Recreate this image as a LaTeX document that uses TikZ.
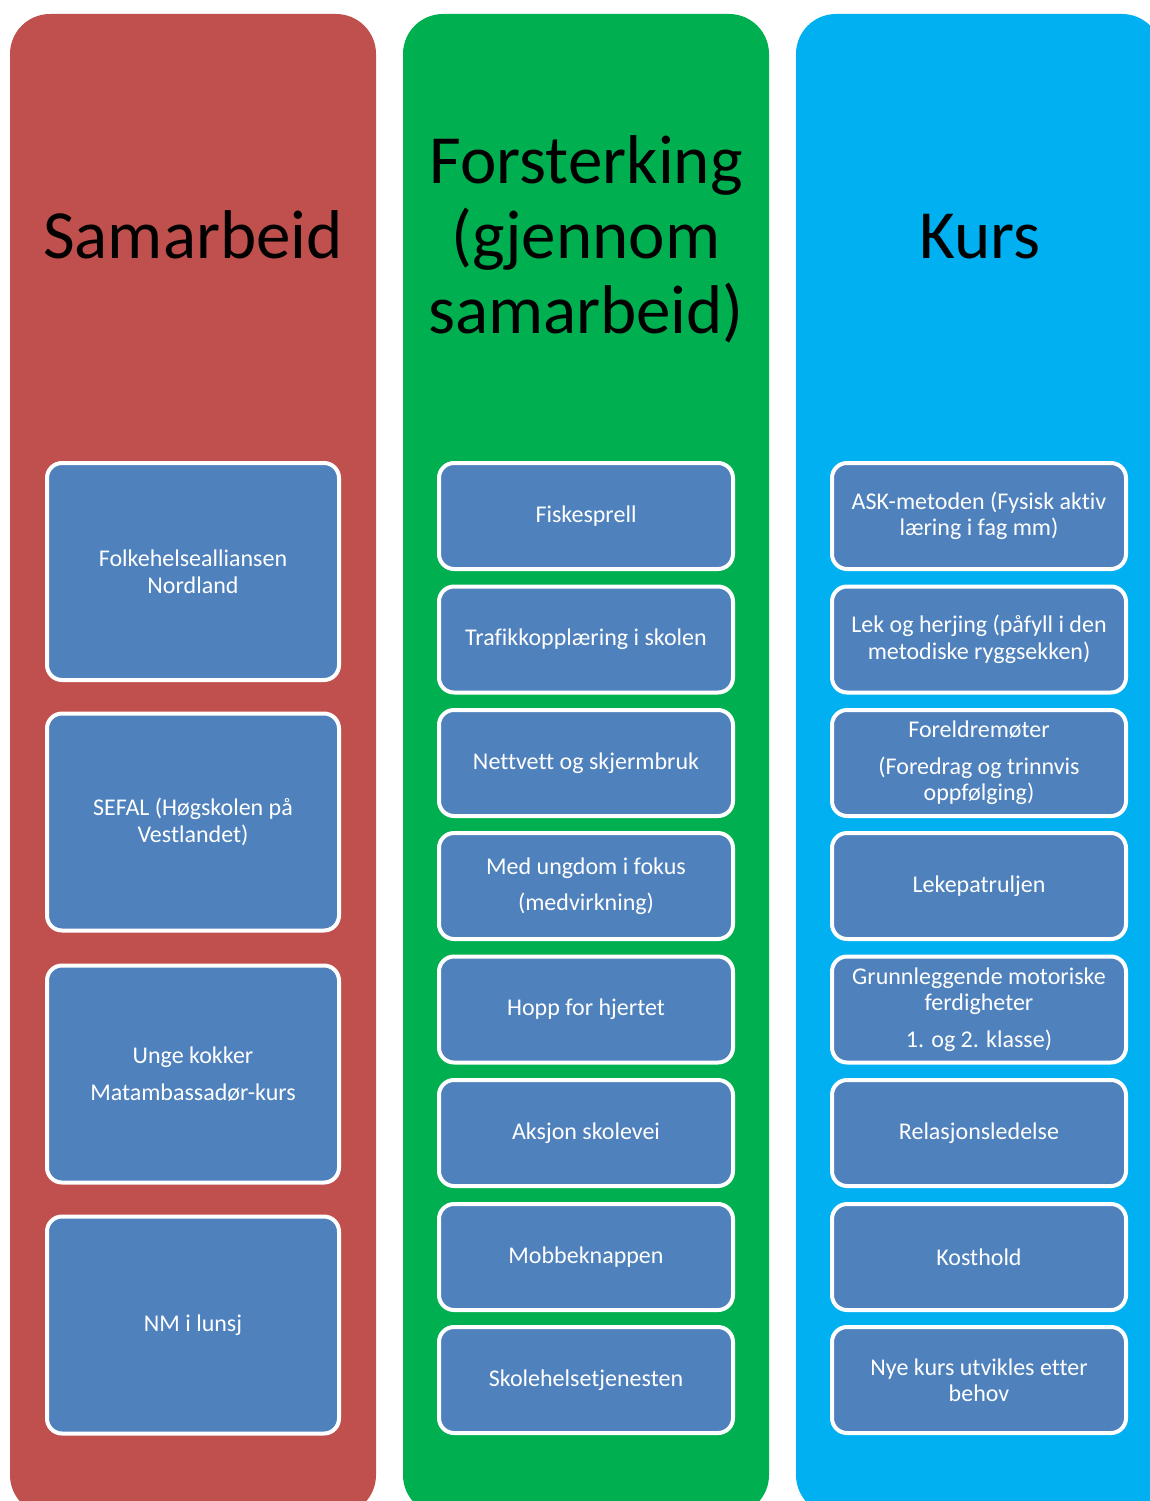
\documentclass[tikz,border=0pt]{standalone}
\usepackage{fontspec}
\setmainfont{Carlito}[Ligatures=NoCommon]
\usepackage{tikz}
\definecolor{samred}{HTML}{C0504D}
\definecolor{forgreen}{HTML}{00B050}
\definecolor{kursblue}{HTML}{00B0F0}
\definecolor{boxblue}{HTML}{4F81BD}
\tikzstyle{column} = [rounded corners=40pt]
\tikzstyle{title} = [font=\fontsize{69}{75}\selectfont, align=center, text=black]
\tikzstyle{item} = [rectangle, rounded corners=15pt, draw=white, line width=4pt, fill=boxblue, text=white, align=center, inner sep=0pt, font=\fontsize{24}{26.5}\selectfont]
\tikzstyle{bigitem} = [item, minimum width=292pt, minimum height=217pt]
\tikzstyle{smallitem} = [item, minimum width=294pt, minimum height=106pt]

\begin{document}
\begin{tikzpicture}[x=1pt,y=-1pt]
			\clip (0,0) rectangle (1150,1501);
			\fill[white] (0,0) rectangle (1150,1501);
			% the three columns
			\fill[samred,column] (10,14) rectangle (376,1515);
			\fill[forgreen,column] (403,14) rectangle (769,1515);
			\fill[kursblue,column] (796,14) rectangle (1162,1515);
			\node[title,anchor=base] (samarbeid) at (193,258) {Samarbeid};
			\node[title] (forsterking) at (586,239) {Forsterking\\(gjennom\\samarbeid)};
			\node[title,anchor=base] (kurs) at (980,258) {Kurs};
			% Samarbeid
			\node[bigitem] (sam1) at (193,571.5) {Folkehelsealliansen\\Nordland};
			\node[bigitem] (sam2) at (193,822) {SEFAL (Høgskolen på\\Vestlandet)};
			\node[bigitem] (sam3) at (193,1074) {Unge kokker\\[10pt]Matambassadør-kurs};
			\node[bigitem] (sam4) at (193,1325) {NM i lunsj};
			% Forsterking
			\node[smallitem] (for1) at (586,516) {Fiskesprell};
			\node[smallitem] (for2) at (586,639.5) {Trafikkopplæring i skolen};
			\node[smallitem] (for3) at (586,763) {Nettvett og skjermbruk};
			\node[smallitem] (for4) at (586,886) {Med ungdom i fokus\\[10pt](medvirkning)};
			\node[smallitem] (for5) at (586,1009.5) {Hopp for hjertet};
			\node[smallitem] (for6) at (586,1133) {Aksjon skolevei};
			\node[smallitem] (for7) at (586,1257) {Mobbeknappen};
			\node[smallitem] (for8) at (586,1380) {Skolehelsetjenesten};
			% Kurs
			\node[smallitem] (kurs1) at (979,516) {ASK-metoden (Fysisk aktiv\\læring i fag mm)};
			\node[smallitem] (kurs2) at (979,639.5) {Lek og herjing (påfyll i den\\metodiske ryggsekken)};
			\node[smallitem] (kurs3) at (979,763) {Foreldremøter\\[10pt](Foredrag og trinnvis\\oppfølging)};
			\node[smallitem] (kurs4) at (979,886) {Lekepatruljen};
			\node[smallitem] (kurs5) at (979,1009.5) {Grunnleggende motoriske\\ferdigheter\\[10pt]1. og 2. klasse)};
			\node[smallitem] (kurs6) at (979,1133) {Relasjonsledelse};
			\node[smallitem] (kurs7) at (979,1257) {Kosthold};
			\node[smallitem] (kurs8) at (979,1380) {Nye kurs utvikles etter\\behov};
		\end{tikzpicture}
\end{document}
